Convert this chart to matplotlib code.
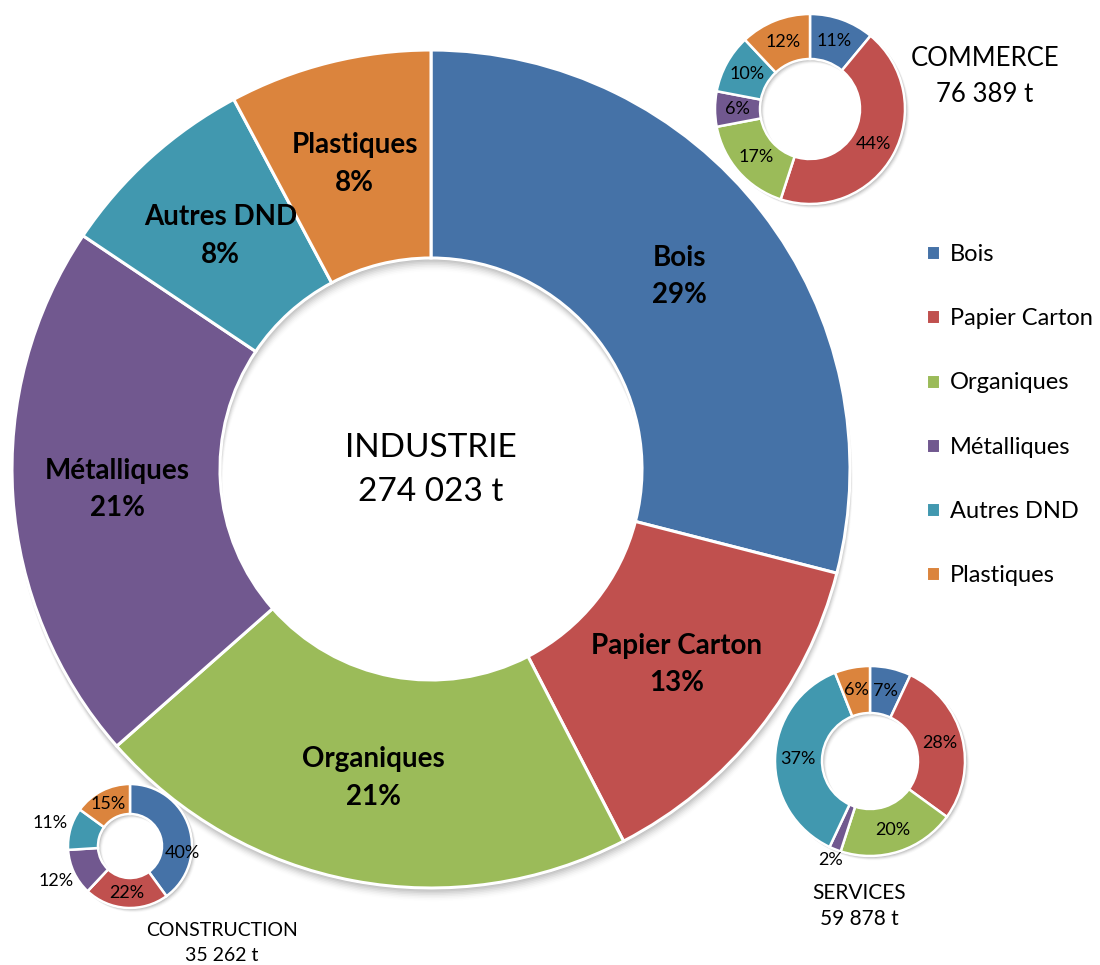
import matplotlib
matplotlib.use("Agg")
import matplotlib.pyplot as plt
from matplotlib.patches import Wedge
import numpy as np

# ---- data ----
categories = ["Bois", "Papier Carton", "Organiques", "Métalliques", "Autres DND", "Plastiques"]
industrie = [29.0, 13.4, 21.1, 20.9, 7.8, 7.8]
commerce = [11, 44, 17, 6, 10, 12]
services = [7, 28, 20, 2, 37, 6]
construction = [40, 22, 0, 12, 11, 15]
titles = {
    "industrie": "INDUSTRIE\n274 023 t",
    "commerce": "COMMERCE\n76 389 t",
    "services": "SERVICES\n59 878 t",
    "construction": "CONSTRUCTION\n35 262 t",
}

colors = ["#4572A7", "#C0504E", "#9BBB59", "#71588F", "#4198AF", "#DB843D"]

W, H = 1100, 965
fig = plt.figure(figsize=(W / 100, H / 100), dpi=100)
ax = fig.add_axes([0, 0, 1, 1])
ax.axis("off")

LABEL_FONT = "Lato"
TITLE_FONT = "Lato"


def Y(y):
    return H - y


def shadow(cx, cy, R, r, dx=0.8, dy=0.8, n=5, base=0.10):
    for k in range(1, n + 1):
        a = base * (1 - (k - 1) / n)
        w = Wedge((cx + k * dx, cy - k * dy), R + 0.5, 0, 360, width=R - r + 1,
                  facecolor="black", edgecolor="none", alpha=a, zorder=1)
        ax.add_patch(w)


def donut(vals, cx, cy, R, r, lw, zorder=2):
    wedges, _ = ax.pie(vals, colors=colors, startangle=90, counterclock=False,
                       center=(cx, Y(cy)), radius=R, frame=True,
                       wedgeprops=dict(width=R - r, edgecolor="white", linewidth=lw))
    for w in wedges:
        w.set_zorder(zorder)
    return wedges


# ---- main donut ----
mc = (431, 469)
shadow(mc[0], Y(mc[1]), 419, 211, dx=0.3, dy=1.6, n=8, base=0.06)
wm = donut(industrie, mc[0], mc[1], 419, 211, 2.2)
for w, name, v in zip(wm, categories, industrie):
    mid = np.deg2rad((w.theta1 + w.theta2) / 2)
    d = 0.75 * 419
    ax.text(mc[0] + d * np.cos(mid), Y(mc[1]) + d * np.sin(mid),
            f"{name}\n{v:.0f}%", ha="center", va="center", fontsize=20,
            fontweight="bold", family=LABEL_FONT, linespacing=1.55, zorder=5)
ax.text(mc[0], Y(mc[1] + 1), titles["industrie"], ha="center", va="center",
        fontsize=24, family=TITLE_FONT, fontweight="normal", linespacing=1.62,
        color="black", zorder=5)


# ---- small donuts ----
def small(vals, cx, cy, R, r, place, key, tpos, tsize, ls):
    shadow(cx, Y(cy), R, r)
    ws = donut(vals, cx, cy, R, r, 1.8, zorder=3)
    for i, (w, v) in enumerate(zip(ws, vals)):
        if v == 0:
            continue
        dist, dang = place.get(i, (0.76, 0))
        mid = np.deg2rad((w.theta1 + w.theta2) / 2 + dang)
        d = dist * R
        ax.text(cx + d * np.cos(mid), Y(cy) + d * np.sin(mid), f"{v}%",
                ha="center", va="center", fontsize=13, family=LABEL_FONT, zorder=6)
    ax.text(tpos[0], Y(tpos[1]), titles[key], ha="center", va="center",
            fontsize=tsize, family=TITLE_FONT, fontweight="normal", linespacing=ls,
            color="black", zorder=6)


small(commerce, 810, 109, 95, 50, {}, "commerce", (985, 76), 18.5, 1.55)
small(services, 870, 761, 95, 48, {3: (1.12, 0)}, "services", (859, 906), 15, 1.4)
small(construction, 130, 846, 62, 32, {0: (0.85, -26), 3: (1.32, 0), 4: (1.34, 0)},
      "construction", (222, 943), 14, 1.6)

ax.set_xlim(0, W)
ax.set_ylim(0, H)
ax.set_aspect("equal")

# ---- legend ----
leg = ax.legend(wm, categories, loc="upper left", bbox_to_anchor=(926 / W, Y(244) / H),
                frameon=False, prop={"family": LABEL_FONT, "size": 17},
                handlelength=0.6, handleheight=0.6, handletextpad=0.4,
                labelspacing=1.83, borderaxespad=0, borderpad=0)

fig.savefig("out.png", dpi=100)
